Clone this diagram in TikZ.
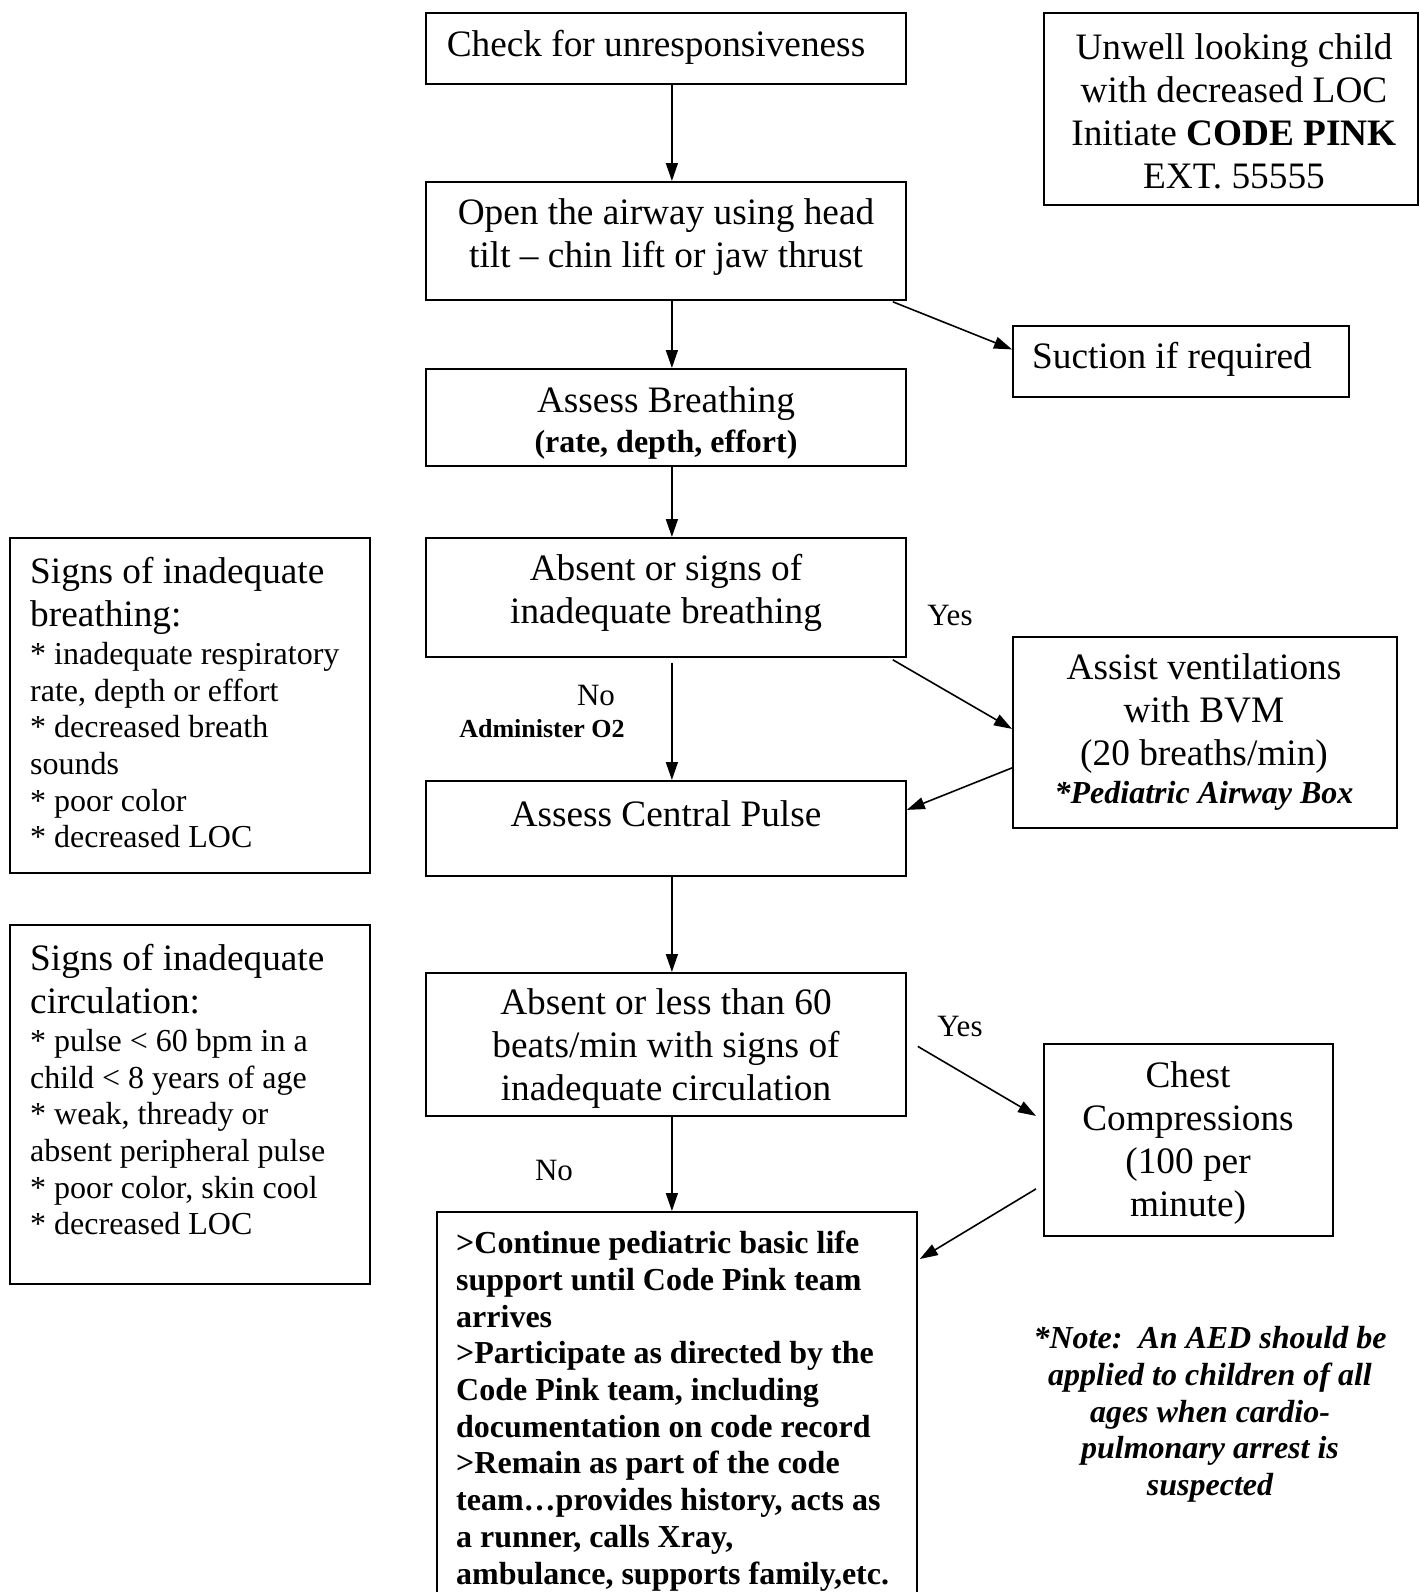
\documentclass[tikz,border=0pt]{standalone}
\usepackage{fontspec}
\setmainfont{Liberation Serif}
\usetikzlibrary{arrows.meta,calc}
\begin{document}
\begin{tikzpicture}[x=1pt,y=-1pt,
  box/.style={draw,line width=1.8pt,anchor=north west,inner sep=0pt},
  big/.style={font=\fontsize{37.3}{43}\selectfont,inner sep=0pt},
  small/.style={font=\fontsize{32}{36.7}\selectfont,inner sep=0pt},
  arr/.style={line width=1.6pt,-{Triangle[length=18pt,width=12pt]}},
  lbl/.style={font=\fontsize{31}{36}\selectfont,inner sep=0pt}
]
\useasboundingbox (0,0) rectangle (1419,1592);
\clip (0,0) rectangle (1419,1592);

% boxes
\node[box,minimum width=480pt,minimum height=71pt] (check) at (425,12) {};
\node[box,minimum width=374pt,minimum height=192pt] (unwell) at (1043,12) {};
\node[box,minimum width=480pt,minimum height=118pt] (open) at (425,181) {};
\node[box,minimum width=336pt,minimum height=71pt] (suction) at (1012,325) {};
\node[box,minimum width=480pt,minimum height=97pt] (assess) at (425,368) {};
\node[box,minimum width=360pt,minimum height=335pt] (signsB) at (9,537) {};
\node[box,minimum width=480pt,minimum height=119pt] (absentB) at (425,537) {};
\node[box,minimum width=384pt,minimum height=191pt] (assist) at (1012,636) {};
\node[box,minimum width=480pt,minimum height=95pt] (pulse) at (425,780) {};
\node[box,minimum width=360pt,minimum height=359pt] (signsC) at (9,924) {};
\node[box,minimum width=480pt,minimum height=143pt] (absentC) at (425,972) {};
\node[box,minimum width=289pt,minimum height=192pt] (chest) at (1043,1043) {};
\node[box,minimum width=480pt,minimum height=420pt] (cont) at (436,1211) {};

% texts
\node[big] (tcheck) at (656,47) {Check for unresponsiveness};
\node[big,align=center] (tunwell) at (1234,111) {Unwell looking child\\with decreased LOC\\Initiate \textbf{CODE PINK}\\EXT. 55555};
\node[big,align=center] (topen) at (666,237) {Open the airway using head\\tilt – chin lift or jaw thrust};
\node[big] (tsuction) at (1172,359) {Suction if required};
\begin{scope}
\clip (425,368) rectangle (905,466);
\node[big] (tassessA) at (666,404) {Assess Breathing};
\node[small,font=\fontsize{32}{36.7}\selectfont\bfseries] (tassessB) at (666,445) {(rate, depth, effort)};
\end{scope}
\node[big,align=center] (tabsentB) at (666,593) {Absent or signs of\\inadequate breathing};
\node[big,align=center] (tassist) at (1204,714) {Assist ventilations\\with BVM\\(20 breaths/min)};
\node[small,font=\fontsize{32}{36.7}\selectfont\bfseries\itshape] (tped) at (1204,796) {*Pediatric Airway Box};
\node[big] (tpulse) at (666,814) {Assess Central Pulse};
\node[big,align=center] (tabsentC) at (666,1049) {Absent or less than 60\\beats/min with signs of\\inadequate circulation};
\node[big,align=center] (tchest) at (1188,1143) {Chest\\Compressions\\(100 per\\minute)};

\node[big,align=left,anchor=north west] (tsignsBh) at (30,557) {Signs of inadequate\\breathing:};
\node[small,align=left,anchor=north west] (tsignsBi) at (30,642) {* inadequate respiratory\\rate, depth or effort\\* decreased breath\\sounds\\* poor color\\* decreased LOC};
\node[big,align=left,anchor=north west] (tsignsCh) at (30,944) {Signs of inadequate\\circulation:};
\node[small,align=left,anchor=north west] (tsignsCi) at (30,1029) {* pulse < 60 bpm in a\\child < 8 years of age\\* weak, thready or\\absent peripheral pulse\\* poor color, skin cool\\* decreased LOC};

\node[small,font=\fontsize{32}{36.7}\selectfont\bfseries,align=left,anchor=north west] (tcont) at (456,1231) {>Continue pediatric basic life\\support until Code Pink team\\arrives\\>Participate as directed by the\\Code Pink team, including\\documentation on code record\\>Remain as part of the code\\team…provides history, acts as\\a runner, calls Xray,\\ambulance, supports family,etc.};
\node[small,font=\fontsize{32}{36.8}\selectfont\bfseries\itshape,align=center,anchor=north] (tnote) at (1210,1326) {*Note:\ \ An AED should be\\applied to children of all\\ages when cardio-\\pulmonary arrest is\\suspected};

% labels
\node[lbl] (yes1) at (950,615) {Yes};
\node[lbl] (no1) at (596,695) {No};
\node[lbl,font=\fontsize{26}{30}\selectfont\bfseries] (admin) at (542,729) {Administer O2};
\node[lbl] (yes2) at (960,1026) {Yes};
\node[lbl] (no2) at (554,1170) {No};

% connectors
\draw[arr] ($(check.south)+(6,0)$) -- ($(open.north)+(6,0)$);
\draw[arr] ($(open.south)+(6,0)$) -- ($(assess.north)+(6,0)$);
\draw[arr] ($(open.south east)+(-14,1)$) -- ($(suction.west)+(0,-12)$);
\draw[arr] ($(assess.south)+(6,0)$) -- ($(absentB.north)+(6,0)$);
\draw[arr] ($(absentB.south)+(6,5)$) -- ($(pulse.north)+(6,0)$);
\draw[arr] ($(absentB.south east)+(-14,2)$) -- ($(assist.west)+(0,-3.5)$);
\draw[arr] ($(assist.west)+(0,35.5)$) -- ($(pulse.east)+(0,-18.5)$);
\draw[arr] ($(pulse.south)+(6,0)$) -- ($(absentC.north)+(6,0)$);
\draw[arr] ($(absentC.south)+(6,0)$) -- ($(cont.north)+(-5,0)$);
\draw[arr] ($(absentC.east)+(11,2)$) -- ($(chest.west)+(-7,-24)$);
\draw[arr] ($(chest.west)+(-7,49)$) -- ($(cont.north east)+(2,48)$);
\end{tikzpicture}
\end{document}
